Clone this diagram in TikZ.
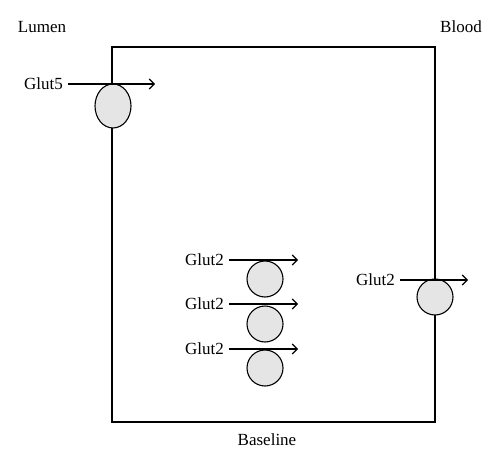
\documentclass[tikz,border=0pt]{standalone}
\usepackage{fontspec}
\setmainfont{Liberation Serif}
\usetikzlibrary{shapes.geometric,arrows.meta}
\begin{document}
\begin{tikzpicture}[x=1pt,y=-1pt,
  lbl/.style={font=\fontsize{17}{19}\selectfont, inner sep=0pt},
  glutlbl/.style={lbl, anchor=east},
  carrier/.style={draw, line width=1.1pt, fill=black!10, inner sep=0pt},
  flow/.style={line width=1.1pt, -{Straight Barb[length=5pt,width=10pt]}},
  wall/.style={draw, line width=1.1pt}]
\useasboundingbox (0,0) rectangle (500,468);
% cell
\path[wall] (112,47) rectangle (435,422);
% labels
\node[lbl] (lumen) at (42,27) {Lumen};
\node[lbl] (blood) at (461,27) {Blood};
\node[lbl] (base) at (267,440) {Baseline};
% carriers
\node[carrier, ellipse, minimum width=36pt, minimum height=44pt] (e5) at (113,106) {};
\node[carrier, circle, minimum size=36pt] (c1) at (265,279) {};
\node[carrier, circle, minimum size=36pt] (c2) at (265,324) {};
\node[carrier, circle, minimum size=36pt] (c3) at (265,368) {};
\node[carrier, circle, minimum size=36pt] (cr) at (435,297) {};
% glut labels
\node[glutlbl] (g5) at (63,84) {Glut5};
\node[glutlbl] (g2a) at (224,260) {Glut2};
\node[glutlbl] (g2b) at (224,304) {Glut2};
\node[glutlbl] (g2c) at (224,349) {Glut2};
\node[glutlbl] (g2r) at (395,280) {Glut2};
% arrow ends
\coordinate (t5) at (155,84);
\coordinate (ta) at (298,260);
\coordinate (tb) at (298,304);
\coordinate (tc) at (298,349);
\coordinate (tr) at (468,280);
\draw[flow] ([xshift=5pt]g5.east) -- (t5);
\draw[flow] ([xshift=5pt]g2a.east) -- (ta);
\draw[flow] ([xshift=5pt]g2b.east) -- (tb);
\draw[flow] ([xshift=5pt]g2c.east) -- (tc);
\draw[flow] ([xshift=5pt]g2r.east) -- (tr);
\end{tikzpicture}
\end{document}
